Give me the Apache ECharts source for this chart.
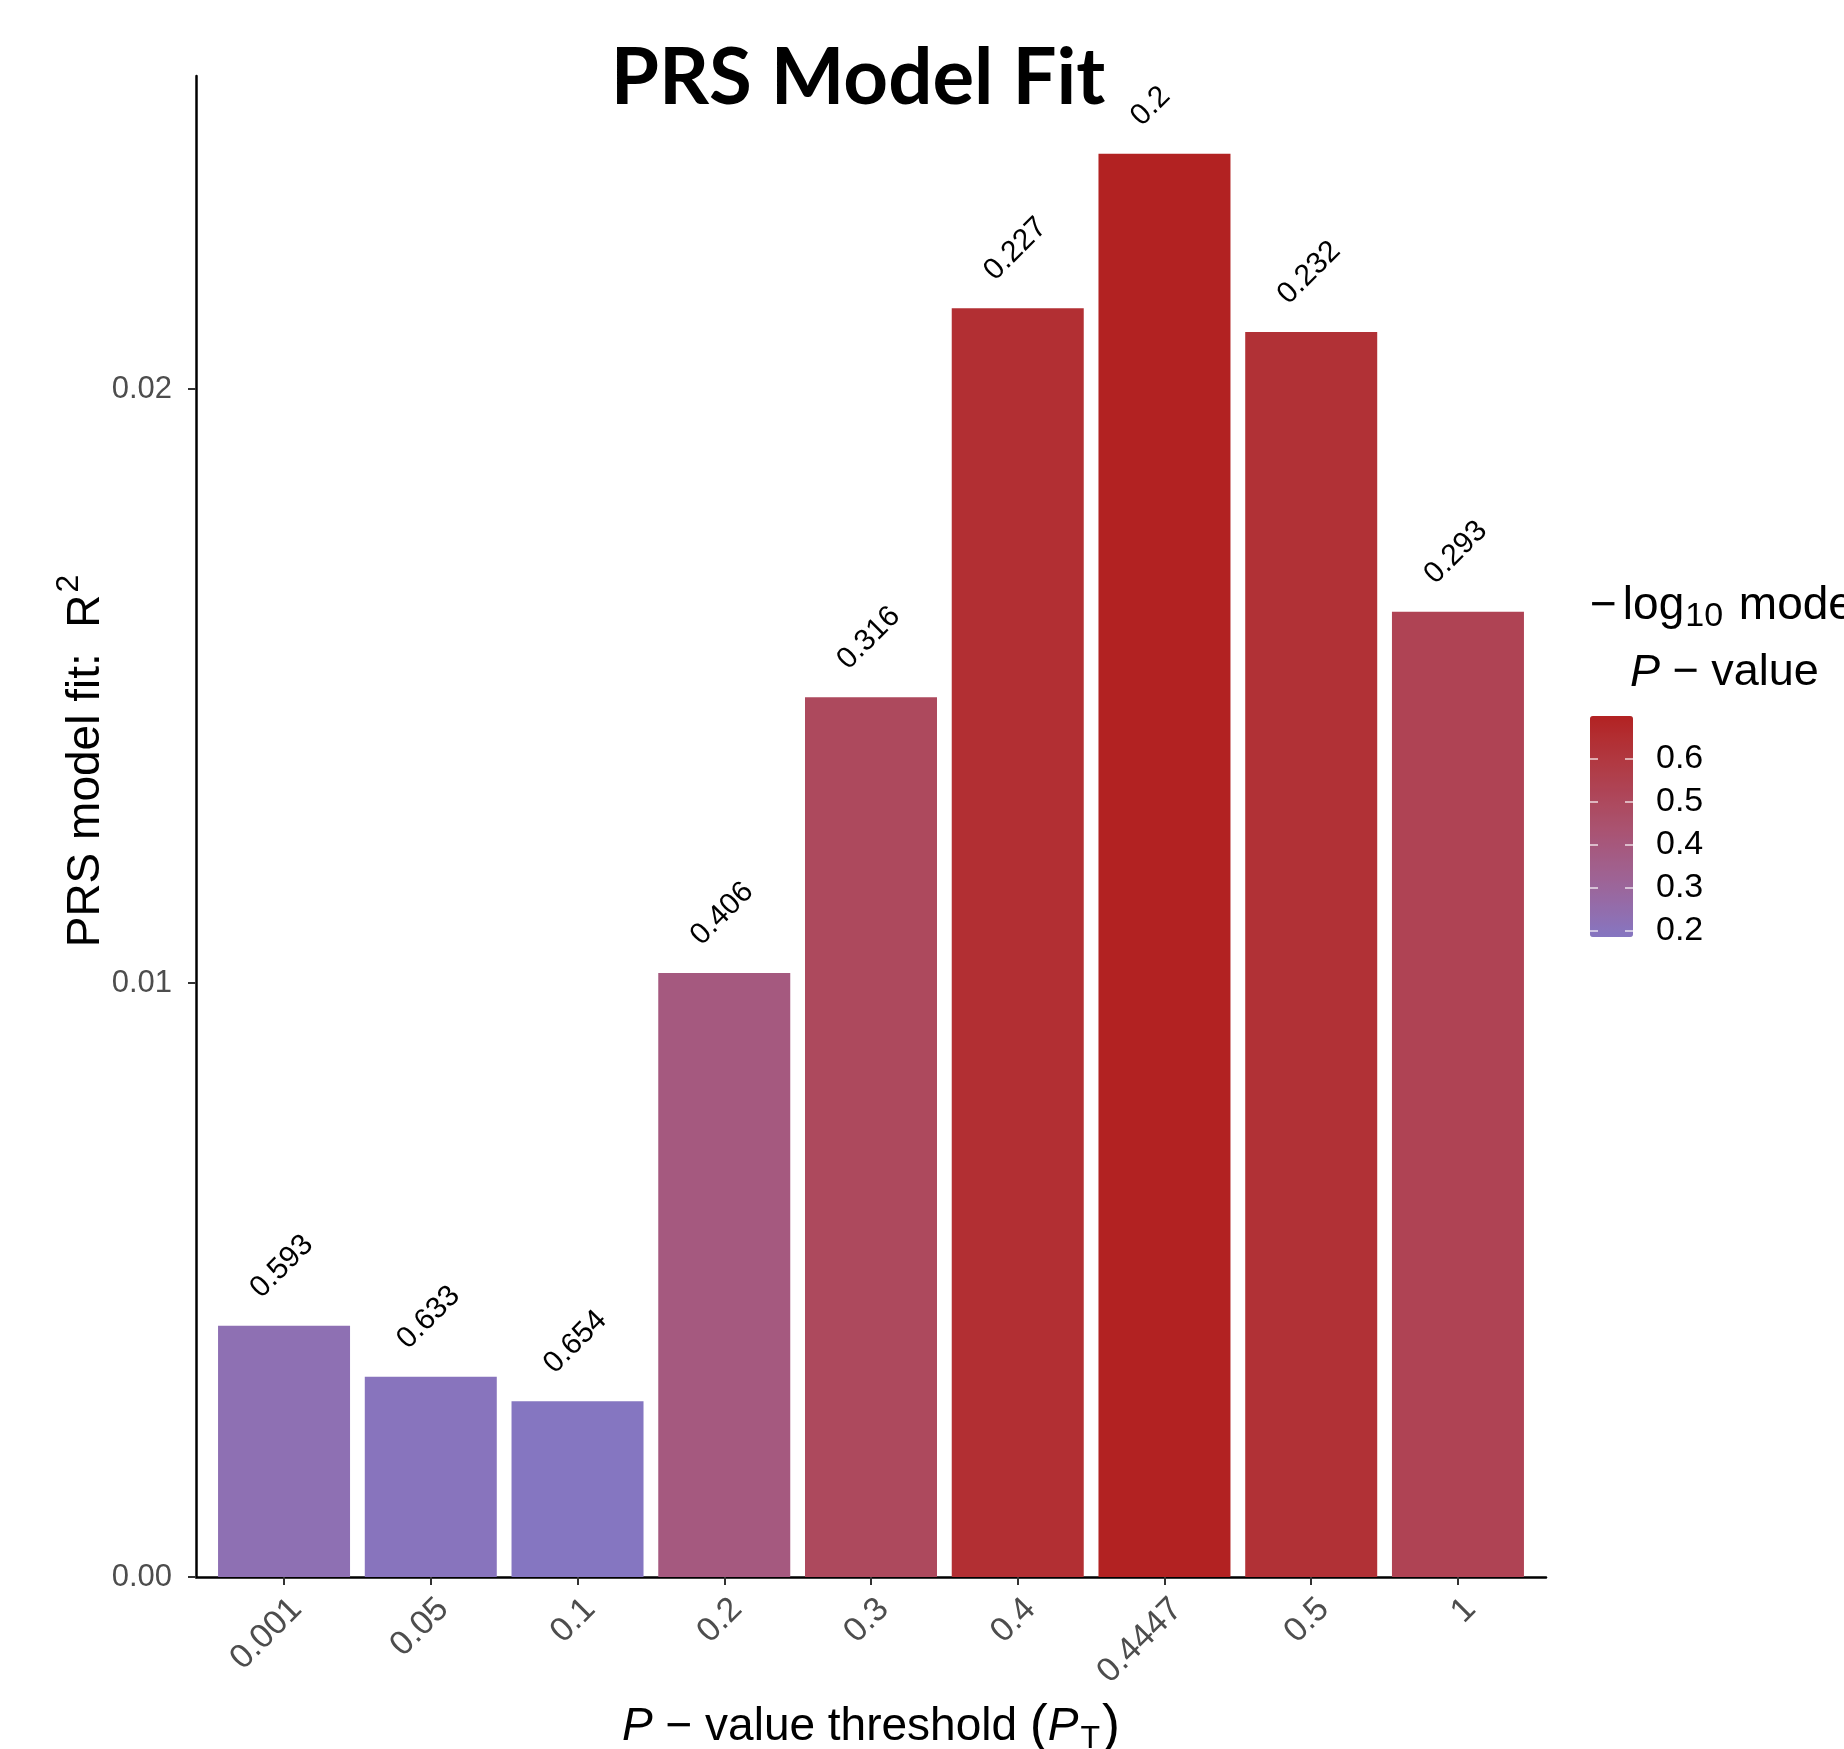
<!DOCTYPE html>
<html>
<head>
<meta charset="utf-8">
<title>PRS Model Fit</title>
<script src="https://cdn.jsdelivr.net/npm/echarts@6/dist/echarts.min.js"></script>
<style>
  html, body { margin: 0; padding: 0; background: #fff; }
  #chart { width: 1844px; height: 1749px; }
</style>
</head>
<body>
<div id="chart"></div>
<script>
// P-value thresholds used to build each polygenic risk score
const thresholds = ['0.001', '0.05', '0.1', '0.2', '0.3', '0.4', '0.4447', '0.5', '1'];
// Variance explained by each score (R^2)
const r2Values = [0.00423, 0.00337, 0.00296, 0.01017, 0.01481, 0.02136, 0.02396, 0.02096, 0.01625];
// Model P-values printed above the bars
const modelP = ['0.593', '0.633', '0.654', '0.406', '0.316', '0.227', '0.2', '0.232', '0.293'];
// Axis ticks
const yTicks = [0, 0.01, 0.02];
const legendTicks = [0.2, 0.3, 0.4, 0.5, 0.6];

// Fill colour encodes -log10(model P)
const negLogP = modelP.map(p => -Math.log10(parseFloat(p)));
const legMin = Math.min(...negLogP);
const legMax = Math.max(...negLogP);

// Gradient from purple to firebrick, interpolated in CIE Lab
const LOW = '#8576C1', HIGH = '#B22222';
function hexToRgb(h) { return [1, 3, 5].map(i => parseInt(h.substr(i, 2), 16)); }
function toLin(c) { c /= 255; return c <= 0.04045 ? c / 12.92 : Math.pow((c + 0.055) / 1.055, 2.4); }
function fromLin(c) { const v = c <= 0.0031308 ? 12.92 * c : 1.055 * Math.pow(c, 1 / 2.4) - 0.055; return Math.max(0, Math.min(255, Math.round(v * 255))); }
function rgbToLab(rgb) {
  const [R, G, B] = rgb.map(toLin);
  const X = (0.4124 * R + 0.3576 * G + 0.1805 * B) / 0.95047;
  const Y = (0.2126 * R + 0.7152 * G + 0.0722 * B);
  const Z = (0.0193 * R + 0.1192 * G + 0.9505 * B) / 1.08883;
  const f = t => t > 0.008856 ? Math.cbrt(t) : 7.787 * t + 16 / 116;
  const fx = f(X), fy = f(Y), fz = f(Z);
  return [116 * fy - 16, 500 * (fx - fy), 200 * (fy - fz)];
}
function labToHex(lab) {
  const fy = (lab[0] + 16) / 116, fx = fy + lab[1] / 500, fz = fy - lab[2] / 200;
  const fi = t => t * t * t > 0.008856 ? t * t * t : (t - 16 / 116) / 7.787;
  const X = fi(fx) * 0.95047, Y = fi(fy), Z = fi(fz) * 1.08883;
  const R = 3.2406 * X - 1.5372 * Y - 0.4986 * Z;
  const G = -0.9689 * X + 1.8758 * Y + 0.0415 * Z;
  const B = 0.0557 * X - 0.2040 * Y + 1.0570 * Z;
  return '#' + [R, G, B].map(fromLin).map(v => v.toString(16).padStart(2, '0')).join('');
}
const labLow = rgbToLab(hexToRgb(LOW)), labHigh = rgbToLab(hexToRgb(HIGH));
const palette = [];
for (let k = 0; k <= 20; k++) {
  const t = k / 20;
  palette.push(labToHex(labLow.map((v, j) => v + (labHigh[j] - v) * t)));
}

const barData = thresholds.map((t, i) => [i, r2Values[i], negLogP[i]]);

const FONT = '"Liberation Sans", Arial, Helvetica, sans-serif';
const chart = echarts.init(document.getElementById('chart'), null, { renderer: 'canvas' });

chart.setOption({
  backgroundColor: '#ffffff',
  animation: false,
  textStyle: { fontFamily: FONT },
  grid: [
    { left: 196, top: 76, width: 1350, height: 1501 },
    { left: 1590, top: 716, width: 43, height: 221 }
  ],
  xAxis: [
    {
      type: 'value', gridIndex: 0, min: -0.6, max: 8.6,
      splitLine: { show: false },
      axisLine: { show: true, onZero: false, lineStyle: { color: '#000', width: 2.5 } },
      axisTick: { show: true, customValues: thresholds.map((t, i) => i), length: 8,
                  lineStyle: { color: '#333', width: 2 } },
      axisLabel: {
        customValues: thresholds.map((t, i) => i + 0.085),
        formatter: v => thresholds[Math.round(v)],
        rotate: 45, margin: 27, fontSize: 34, color: '#4D4D4D', fontFamily: FONT
      }
    },
    { type: 'category', gridIndex: 1, data: [''], show: false }
  ],
  yAxis: [
    {
      type: 'value', gridIndex: 0, min: 0, max: 0.02527,
      splitLine: { show: false },
      axisLine: { show: true, onZero: false, lineStyle: { color: '#000', width: 2.5 } },
      axisTick: { show: true, customValues: yTicks, length: 8, lineStyle: { color: '#333', width: 2 } },
      axisLabel: { customValues: yTicks, formatter: v => v.toFixed(2), margin: 24,
                   fontSize: 31, color: '#4D4D4D', fontFamily: FONT }
    },
    {
      type: 'value', gridIndex: 1, position: 'right', min: legMin, max: legMax, z: 10,
      splitLine: { show: false },
      axisLine: { show: false },
      axisTick: { show: true, inside: true, length: 8, customValues: legendTicks,
                  lineStyle: { color: '#ffffff', width: 1.5, opacity: 0.8 } },
      axisLabel: { customValues: legendTicks, formatter: v => v.toFixed(1), margin: 23,
                   fontSize: 34, color: '#000', fontFamily: FONT }
    },
    {
      type: 'value', gridIndex: 1, position: 'left', min: legMin, max: legMax, z: 10,
      splitLine: { show: false },
      axisLine: { show: false },
      axisTick: { show: true, inside: true, length: 8, customValues: legendTicks,
                  lineStyle: { color: '#ffffff', width: 1.5, opacity: 0.8 } },
      axisLabel: { show: false }
    }
  ],
  visualMap: {
    type: 'continuous', seriesIndex: 0, dimension: 2,
    min: legMin, max: legMax,
    inRange: { color: palette },
    show: true, calculable: false, hoverLink: false,
    orient: 'vertical', left: 1590, top: 716, padding: 0,
    itemWidth: 43, itemHeight: 221
  },
  series: [
    {
      type: 'bar', xAxisIndex: 0, yAxisIndex: 0,
      data: barData,
      encode: { x: 0, y: 1 },
      barWidth: 132,
      label: {
        show: true,
        position: [48, -22],
        align: 'left', verticalAlign: 'bottom', rotate: 45,
        formatter: p => modelP[p.dataIndex],
        fontSize: 30, color: '#000', fontFamily: FONT
      }
    }
  ],
  graphic: [
    {
      type: 'text', x: 858, y: 79,
      style: { text: 'PRS Model Fit', font: 'bold 78px Lato, "Open Sans", sans-serif',
               fill: '#000', align: 'center', verticalAlign: 'middle' }
    },
    {
      type: 'text', x: 86, y: 761, rotation: Math.PI / 2,
      style: {
        text: 'PRS model fit:  R{sup|2}',
        font: '46px ' + FONT, fill: '#000', align: 'center', verticalAlign: 'middle',
        rich: { sup: { fontSize: 32, fontFamily: FONT, fill: '#000', padding: [0, 0, 34, 2] } }
      }
    },
    {
      type: 'text', x: 871, y: 1727,
      style: {
        text: '{i|P} − value threshold {par|(}{i|P}{sub|T}{par|)}',
        font: '46px ' + FONT, fill: '#000', align: 'center', verticalAlign: 'middle',
        rich: {
          i: { fontSize: 46, fontStyle: 'italic', fontFamily: FONT, fill: '#000' },
          sub: { fontSize: 32, fontFamily: FONT, fill: '#000', padding: [24, 2, 0, 2] },
          par: { fontSize: 54, fontFamily: FONT, fill: '#000' }
        }
      }
    },
    {
      type: 'text', x: 1590, y: 606,
      style: {
        text: '{m|−}log{sub|10} model',
        font: '46px ' + FONT, fill: '#000', align: 'left', verticalAlign: 'middle',
        rich: {
          m: { fontSize: 46, fontFamily: FONT, fill: '#000', padding: [0, 6, 0, 0] },
          sub: { fontSize: 34, fontFamily: FONT, fill: '#000', padding: [22, 3, 0, 1] }
        }
      }
    },
    {
      type: 'text', x: 1630, y: 673,
      style: {
        text: '{i|P} − value',
        font: '45px ' + FONT, fill: '#000', align: 'left', verticalAlign: 'middle',
        rich: { i: { fontSize: 45, fontStyle: 'italic', fontFamily: FONT, fill: '#000' } }
      }
    }
  ]
});
</script>
</body>
</html>
